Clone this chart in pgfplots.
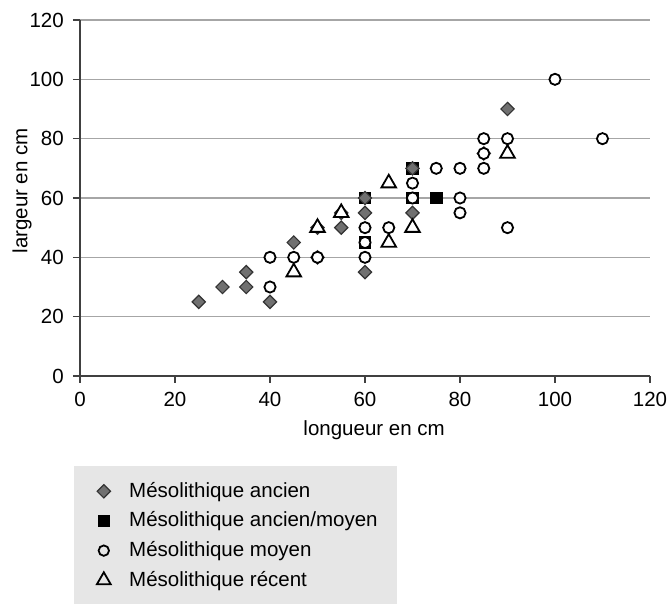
\documentclass[border=0pt]{standalone}
\usepackage{pgfplots}
\pgfplotsset{compat=1.18}
\usepackage{fontspec}
\setmainfont{Liberation Sans}
\definecolor{diafill}{HTML}{707070}
\definecolor{diadraw}{HTML}{333333}
\definecolor{gridc}{HTML}{A6A6A6}
\definecolor{leggray}{HTML}{E6E6E6}
\begin{document}
\fontsize{10.25}{12}\selectfont
\begin{tikzpicture}
\path[use as bounding box] (-40pt,-114pt) rectangle (295pt,188pt);
\begin{axis}[
  scale only axis,
  width=285pt, height=178pt,
  xmin=0, xmax=120, ymin=0, ymax=120,
  xtick={0,20,...,120}, ytick={0,20,...,120},
  axis x line*=bottom, axis y line*=left,
  axis line style={black!75, line width=0.6pt},
  x axis line style={-}, y axis line style={-},
  tick style={black!75, line width=0.6pt},
  tick align=outside,
  major tick length=3.5pt,
  ymajorgrids,
  major grid style={gridc, line width=0.7pt},
  /pgf/number format/assume math mode=true,
  tick label style={font=\fontsize{10.25}{12}\selectfont},
  xticklabel style={yshift=-1pt},
  yticklabel style={xshift=-1pt},
  xlabel={longueur en cm},
  ylabel={largeur en cm},
  xlabel style={at={(axis description cs:0.516,-0.152)}, anchor=center, font=\fontsize{10.25}{12}\selectfont},
  ylabel style={at={(axis description cs:-0.1018,0.52)}, anchor=center, rotate=0, font=\fontsize{10.25}{12}\selectfont},
  clip=false,
  legend style={
    at={(axis description cs:-0.0105,-0.2528)}, anchor=north west,
    draw=none, fill=leggray,
    inner xsep=9.5pt, inner ysep=7.9pt,
    row sep=5.75pt, column sep=7.5pt,
    nodes={inner sep=0pt, font=\fontsize{10.25}{12}\selectfont},
  },
  legend cell align=left,
  legend image code/.code={\path (0pt,0pt) (10pt,0pt); \draw[#1, only marks] plot coordinates {(5pt,0pt)};},
]
\addlegendimage{only marks, mark=square*, mark size=2.35pt, mark options={rotate=45, fill=diafill, draw=diadraw, line width=0.6pt}}
\addlegendentry{Mésolithique ancien}
\addlegendimage{only marks, mark=square*, mark size=2.9pt, mark options={fill=black, draw=black, line width=0.5pt}}
\addlegendentry{Mésolithique ancien/moyen}
\addlegendimage{only marks, mark=o, mark size=2.6pt, mark options={fill=white, draw=black, line width=0.9pt}}
\addlegendentry{Mésolithique moyen}
\addlegendimage{only marks, mark=triangle, mark size=4pt, mark options={fill=white, draw=black, line width=0.9pt}}
\addlegendentry{Mésolithique récent}

% ancien/moyen (drawn first)
\addplot[forget plot, only marks, mark=square*, mark size=2.9pt, mark options={fill=black, draw=black, line width=0.5pt}]
coordinates {(60,60) (60,45) (70,70) (70,60) (75,60)};
% ancien
\addplot[forget plot, only marks, mark=square*, mark size=2.35pt, mark options={rotate=45, fill=diafill, draw=diadraw, line width=0.6pt}]
coordinates {(25,25) (30,30) (35,30) (35,35) (40,25) (45,45) (50,40) (50,50) (55,55) (55,50) (60,60) (60,55) (60,35) (70,70) (70,55) (85,75) (90,90)};
% moyen
\addplot[forget plot, only marks, mark=*, mark size=2.8pt, mark options={fill=white, draw=black, line width=0.9pt}]
coordinates {(40,40) (40,30) (45,40) (50,40) (60,50) (60,45) (60,40) (65,50) (70,65) (70,60) (75,70) (80,70) (80,60) (80,55) (85,80) (85,75) (85,70) (90,80) (90,50) (100,100) (110,80)};
% recent
\addplot[forget plot, only marks, mark=triangle*, mark size=4.2pt, mark options={fill=white, draw=black, line width=0.9pt}]
coordinates {(45,35) (50,50) (55,55) (65,65) (65,45) (70,50) (90,75)};
\end{axis}
\end{tikzpicture}
\end{document}
